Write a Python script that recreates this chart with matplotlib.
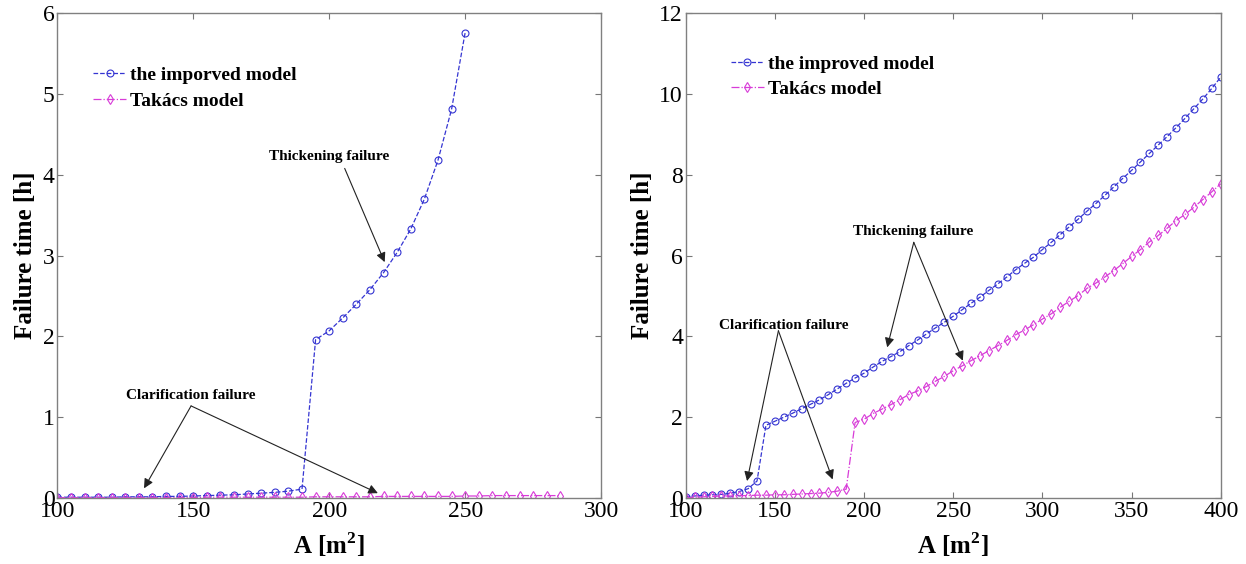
import numpy as np
import matplotlib
matplotlib.use('Agg')
import matplotlib.pyplot as plt

plt.rcParams['font.family'] = ['Liberation Serif', 'DejaVu Serif']
plt.rcParams['mathtext.fontset'] = 'custom'
plt.rcParams['mathtext.rm'] = 'Liberation Serif'
plt.rcParams['mathtext.bf'] = 'Liberation Serif:bold'

# ---- 左図データ ----
A_left_imp = list(range(100, 255, 5))
T_left_imp = [0.01, 0.01, 0.01, 0.01, 0.01, 0.015, 0.015, 0.015, 0.02, 0.02,
              0.025, 0.03, 0.035, 0.04, 0.05, 0.06, 0.07, 0.085, 0.11,
              1.96, 2.07, 2.23, 2.40, 2.58, 2.79, 3.04, 3.33, 3.70, 4.18, 4.81, 5.76]
A_left_tak = list(range(100, 290, 5))
T_left_tak = [0.005] * 11 + [0.01] * 8 + [0.015] * 5 + [0.02] * 6 + \
             [0.025, 0.025, 0.03, 0.03, 0.03, 0.03, 0.03, 0.03]

# ---- 右図データ ----
A_right = list(range(100, 405, 5))
T_right_imp = [0.03, 0.05, 0.07, 0.08, 0.09, 0.12, 0.16, 0.23, 0.42,
               1.80, 1.90, 2.00, 2.10, 2.21, 2.32, 2.43, 2.56, 2.70, 2.84, 2.97,
               3.09, 3.24, 3.38, 3.50, 3.62, 3.77, 3.91, 4.06, 4.21, 4.35,
               4.50, 4.66, 4.82, 4.97, 5.14, 5.30, 5.47, 5.65, 5.81, 5.96,
               6.15, 6.33, 6.52, 6.71, 6.90, 7.10, 7.29, 7.49, 7.70, 7.91,
               8.11, 8.32, 8.53, 8.74, 8.95, 9.17, 9.40, 9.64, 9.88, 10.14, 10.42]
T_right_tak = [0.0, 0.02, 0.03, 0.04, 0.05, 0.05, 0.06, 0.06, 0.07, 0.07,
               0.08, 0.08, 0.09, 0.10, 0.11, 0.12, 0.14, 0.17, 0.22,
               1.87, 1.95, 2.09, 2.20, 2.31, 2.43, 2.56, 2.65, 2.76, 2.89, 3.01,
               3.15, 3.27, 3.40, 3.52, 3.65, 3.77, 3.90, 4.04, 4.16, 4.29,
               4.43, 4.56, 4.72, 4.87, 5.01, 5.19, 5.32, 5.47, 5.63, 5.80,
               5.98, 6.15, 6.34, 6.50, 6.68, 6.87, 7.02, 7.20, 7.39, 7.58, 7.78]

BLUE = '#3535d2'
MAG = '#d83cd8'
ARROW = dict(arrowstyle='-|>', color='#222222', lw=0.8, mutation_scale=14,
             shrinkA=0, shrinkB=0)


def style_axes(ax, xlim, ylim, xticks, yticks):
    ax.set_xlim(*xlim)
    ax.set_ylim(*ylim)
    ax.set_xticks(xticks)
    ax.set_yticks(yticks)
    ax.tick_params(direction='in', top=True, right=True, length=4,
                   color='#777777', labelsize=17, pad=2)
    for s in ax.spines.values():
        s.set_color('#808080')
        s.set_linewidth(1.0)
    ax.set_xlabel(r'A [m$^{\mathbf{2}}$]', fontsize=18, fontweight='bold', labelpad=6)
    ax.set_ylabel('Failure time [h]', fontsize=18, fontweight='bold', labelpad=4)


def draw(ax, A1, T1, A2, T2, lab1):
    ax.plot(A1, T1, '--o', color=BLUE, lw=0.9, ms=5, mfc='none', mew=0.8,
            label=lab1)
    ax.plot(A2, T2, '-.d', color=MAG, lw=0.9, ms=5, mfc='none', mew=0.8,
            label='Takács model')


def legend(ax, x, y):
    ax.legend(loc='upper left', bbox_to_anchor=(x, y), frameon=False,
              prop=dict(size=14, weight='bold'), handlelength=1.7,
              handletextpad=0.2, labelspacing=0.4, borderaxespad=0, borderpad=0)


fig = plt.figure(figsize=(12.46, 5.64), dpi=100)
ax1 = fig.add_axes([0.046, 0.117, 0.4364, 0.8594])
ax2 = fig.add_axes([0.5503, 0.117, 0.4294, 0.8594])

# 左図
draw(ax1, A_left_imp, T_left_imp, A_left_tak, T_left_tak, 'the imporved model')
style_axes(ax1, (100, 300), (0, 6), range(100, 301, 50), range(0, 7))
legend(ax1, 0.066, 0.89)
ax1.text(200, 4.23, 'Thickening failure', fontsize=11, fontweight='bold',
         ha='center', va='center')
ax1.annotate('', xy=(220.4, 2.92), xytext=(205.7, 4.08), arrowprops=ARROW)
ax1.text(149, 1.27, 'Clarification failure', fontsize=11, fontweight='bold',
         ha='center', va='center')
ax1.annotate('', xy=(131.9, 0.12), xytext=(149.2, 1.14), arrowprops=ARROW)
ax1.annotate('', xy=(217.9, 0.06), xytext=(149.2, 1.14), arrowprops=ARROW)

# 右図
draw(ax2, A_right, T_right_imp, A_right, T_right_tak, 'the improved model')
style_axes(ax2, (100, 400), (0, 12), range(100, 401, 50), range(0, 13, 2))
legend(ax2, 0.084, 0.914)
ax2.text(227.7, 6.6, 'Thickening failure', fontsize=11, fontweight='bold',
         ha='center', va='center')
ax2.annotate('', xy=(213, 3.73), xytext=(227.9, 6.33), arrowprops=ARROW)
ax2.annotate('', xy=(255.4, 3.4), xytext=(227.9, 6.33), arrowprops=ARROW)
ax2.text(155, 4.27, 'Clarification failure', fontsize=11, fontweight='bold',
         ha='center', va='center')
ax2.annotate('', xy=(134.4, 0.42), xytext=(152, 4.14), arrowprops=ARROW)
ax2.annotate('', xy=(182.4, 0.46), xytext=(152, 4.14), arrowprops=ARROW)

fig.savefig('out.png', dpi=100)
